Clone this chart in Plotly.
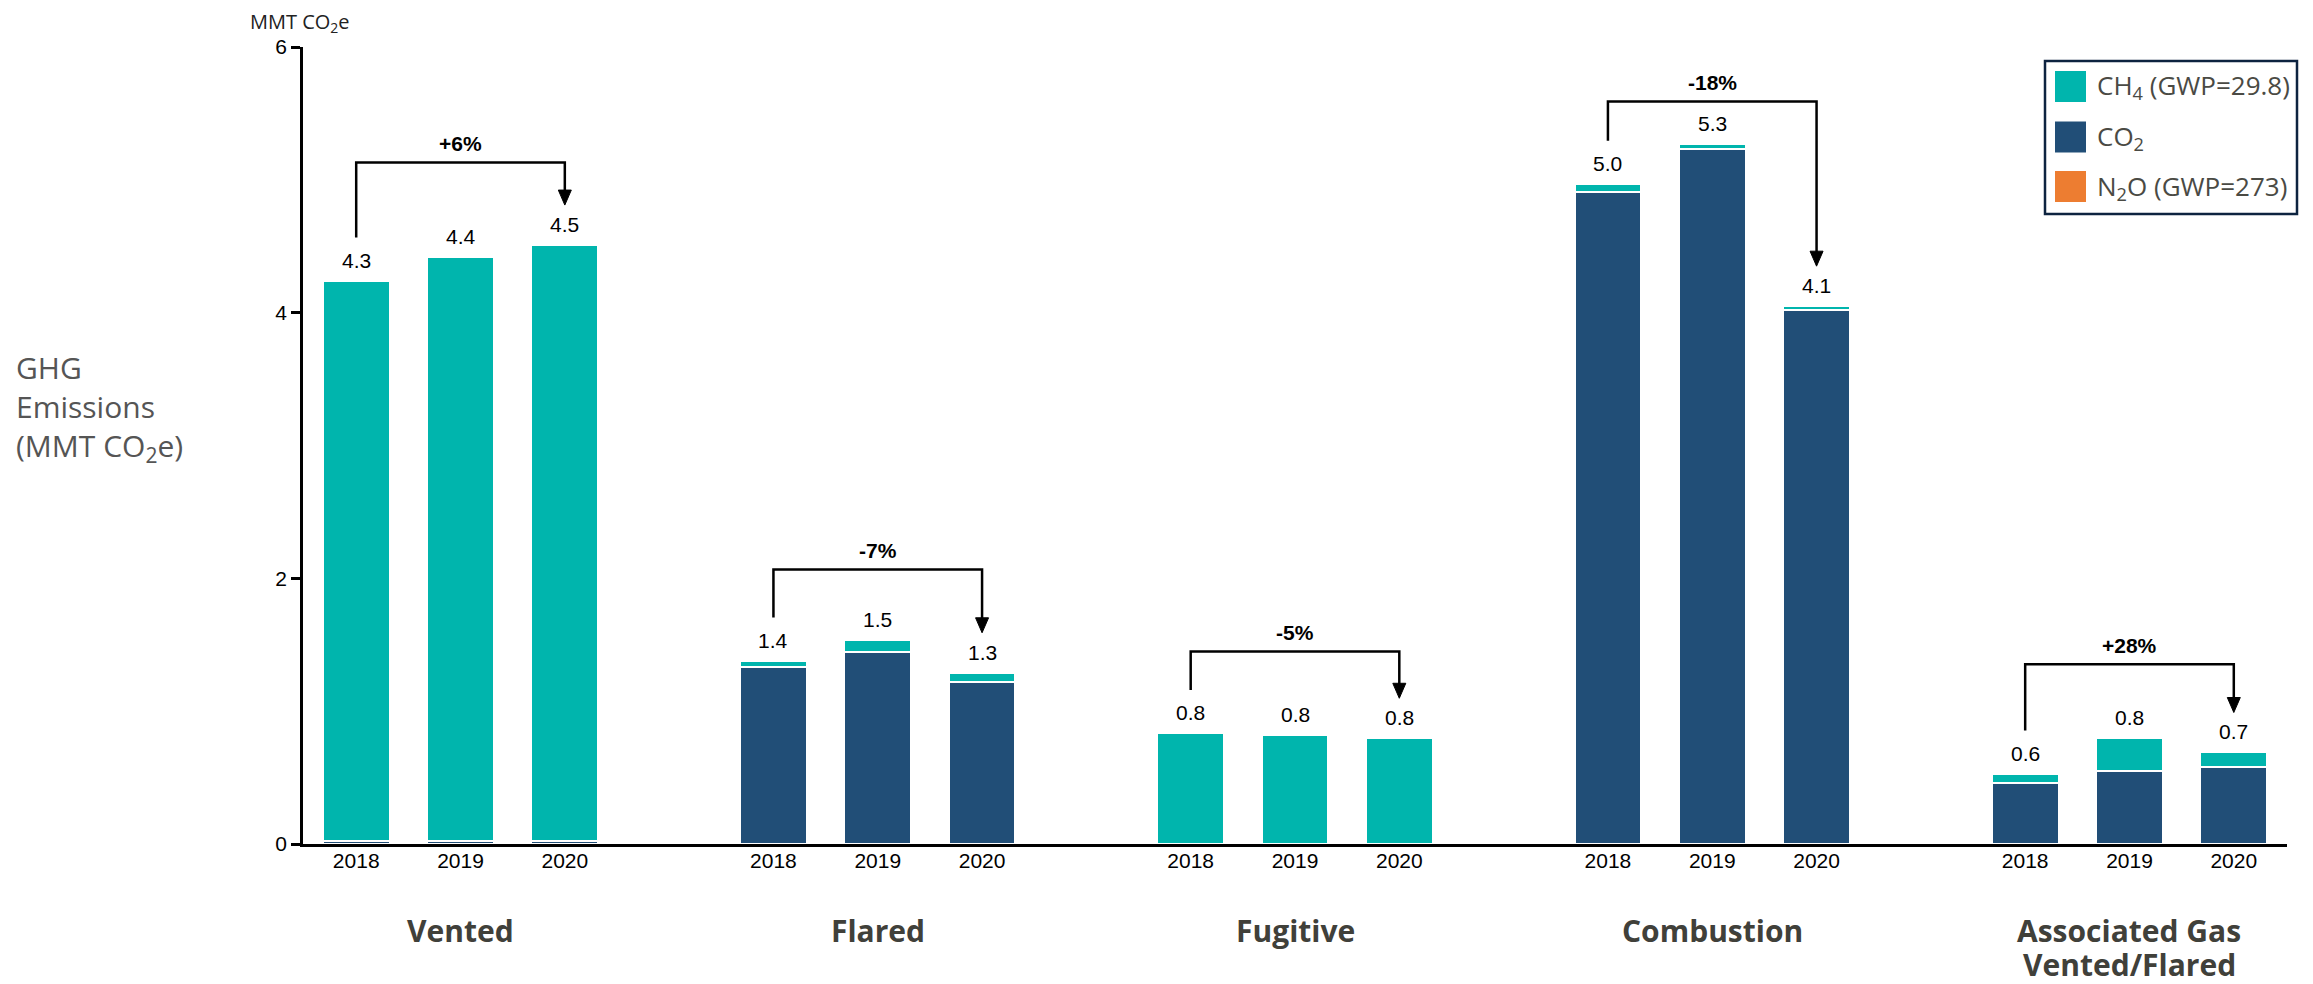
import plotly.graph_objects as go

# ---------------- data ----------------
groups = ["Vented", "Flared", "Fugitive", "Combustion", "Associated Gas|Vented/Flared"]
years = ["2018", "2019", "2020"]

co2 = [
    [0.02, 0.02, 0.02],      # Vented
    [1.33, 1.445, 1.22],     # Flared
    [0.0, 0.0, 0.0],         # Fugitive
    [4.91, 5.23, 4.02],      # Combustion
    [0.46, 0.55, 0.58],      # Associated Gas Vented/Flared
]
ch4 = [
    [4.22, 4.40, 4.49],
    [0.05, 0.09, 0.07],
    [0.835, 0.823, 0.797],
    [0.06, 0.04, 0.03],
    [0.07, 0.25, 0.11],
]
n2o = [
    [0.0, 0.0, 0.0],
    [0.0, 0.0, 0.0],
    [0.0, 0.0, 0.0],
    [0.0, 0.0, 0.0],
    [0.0, 0.0, 0.0],
]
total_labels = [
    ["4.3", "4.4", "4.5"],
    ["1.4", "1.5", "1.3"],
    ["0.8", "0.8", "0.8"],
    ["5.0", "5.3", "4.1"],
    ["0.6", "0.8", "0.7"],
]
change_labels = ["+6%", "-7%", "-5%", "-18%", "+28%"]
y_ticks = [0, 2, 4, 6]

# ---------------- layout constants ----------------
# page body has an 8px margin; the figure is sized to sit inside it
OFF = 8
W, H = 2313 - 2 * OFF, 984 - 2 * OFF
ML, MR, MT, MB = 303 - OFF, 18, 47 - OFF, 132
GROUP_STEP = 4
BAR_W = 0.64
bracket_top = [5.13, 2.066, 1.45, 5.59, 1.353]

TEAL = "#00B5AD"
NAVY = "#214E77"
ORANGE = "#ED7D31"
ARIAL = "Liberation Sans, Arial, sans-serif"
SEGOE = "Open Sans, Noto Sans, sans-serif"

PW = W - ML - MR
PH = H - MT - MB
X_RANGE = [-0.51, (len(groups) - 1) * GROUP_STEP + 2.51]
Y_RANGE = [0, 6]
UX = PW / (X_RANGE[1] - X_RANGE[0])   # px per x unit
UY = PH / (Y_RANGE[1] - Y_RANGE[0])   # px per y unit


def px_x(px):
    """page px -> paper x"""
    return (px - OFF - ML) / PW


def px_y(py):
    """page px -> paper y"""
    return (H - MB - (py - OFF)) / PH


xs, ys_co2, ys_ch4, ys_n2o, tick_text = [], [], [], [], []
for g in range(len(groups)):
    for j in range(len(years)):
        xs.append(g * GROUP_STEP + j)
        ys_co2.append(co2[g][j])
        ys_ch4.append(ch4[g][j])
        ys_n2o.append(n2o[g][j])
        tick_text.append(years[j])

fig = go.Figure()
fig.add_trace(go.Bar(x=xs, y=ys_co2, name="CO<sub>2</sub>", width=BAR_W,
                     marker=dict(color=NAVY, line=dict(color="white", width=2.2))))
fig.add_trace(go.Bar(x=xs, y=ys_ch4, name="CH<sub>4</sub> (GWP=29.8)", width=BAR_W,
                     marker=dict(color=TEAL, line=dict(color="white", width=2.2))))
fig.add_trace(go.Bar(x=xs, y=ys_n2o, name="N<sub>2</sub>O (GWP=273)", width=BAR_W,
                     marker=dict(color=ORANGE, line=dict(width=0))))

annotations = []
shapes = []

# value labels
for g in range(len(groups)):
    for j in range(len(years)):
        tot = co2[g][j] + ch4[g][j] + n2o[g][j]
        annotations.append(dict(x=g * GROUP_STEP + j, y=tot, xref="x", yref="y",
                                text=total_labels[g][j], showarrow=False,
                                yanchor="middle", yshift=20.5,
                                font=dict(family=ARIAL, size=21, color="black")))

# brackets + percent change
HEAD_W = 13 / UX / 2
HEAD_H = 15 / UY
for g in range(len(groups)):
    x0 = g * GROUP_STEP
    x2 = g * GROUP_STEP + 2
    t0 = co2[g][0] + ch4[g][0] + n2o[g][0]
    t2 = co2[g][2] + ch4[g][2] + n2o[g][2]
    top = bracket_top[g]
    tip = t2 + 0.30
    shapes.append(dict(type="path", xref="x", yref="y",
                       path=f"M {x0},{t0 + 0.325} L {x0},{top} L {x2},{top} L {x2},{tip + HEAD_H * 0.8}",
                       line=dict(color="black", width=2.5)))
    shapes.append(dict(type="path", xref="x", yref="y",
                       path=f"M {x2 - HEAD_W},{tip + HEAD_H} L {x2 + HEAD_W},{tip + HEAD_H} L {x2},{tip} Z",
                       line=dict(color="black", width=1), fillcolor="black"))
    annotations.append(dict(x=x0 + 1, y=top, xref="x", yref="y", text=f"<b>{change_labels[g]}</b>",
                            showarrow=False, yanchor="middle", yshift=19,
                            font=dict(family=ARIAL, size=21, color="black")))
    # group labels (one annotation per line)
    for k, line in enumerate(groups[g].split("|")):
        annotations.append(dict(x=x0 + 1, y=0, xref="x", yref="y", text=f"<b>{line}</b>",
                                showarrow=False, yanchor="middle", yshift=-(86 + 34 * k),
                                font=dict(family=SEGOE, size=30, color="#40403a")))

# y title and unit label
annotations.append(dict(x=px_x(14), y=px_y(408), xref="paper", yref="paper",
                        text="GHG<br>Emissions<br>(MMT CO<sub>2</sub>e)", align="left",
                        xanchor="left", yanchor="middle",
                        showarrow=False, font=dict(family=SEGOE, size=30, color="#555555")))
annotations.append(dict(x=px_x(300), y=px_y(22), xref="paper", yref="paper",
                        text="MMT CO<sub>2</sub>e", xanchor="center", yanchor="middle",
                        showarrow=False, font=dict(family=SEGOE, size=20, color="#222222")))

# custom legend
shapes.append(dict(type="rect", xref="paper", yref="paper",
                   x0=px_x(2045), x1=px_x(2297), y0=px_y(61), y1=px_y(214),
                   line=dict(color="#0d2340", width=2.5), fillcolor="white"))
legend_items = [(TEAL, "CH<sub>4</sub> (GWP=29.8)", 86.5),
                (NAVY, "CO<sub>2</sub>", 137),
                (ORANGE, "N<sub>2</sub>O (GWP=273)", 186.5)]
for col, txt, cy in legend_items:
    shapes.append(dict(type="rect", xref="paper", yref="paper",
                       x0=px_x(2055), x1=px_x(2086), y0=px_y(cy - 15.5), y1=px_y(cy + 15.5),
                       line=dict(width=0), fillcolor=col))
    annotations.append(dict(x=px_x(2095), y=px_y(cy), xref="paper", yref="paper",
                            text=txt, xanchor="left", yanchor="middle", showarrow=False,
                            font=dict(family=SEGOE, size=26, color="#4a4a44")))

fig.update_layout(
    barmode="stack",
    width=W, height=H, autosize=False,
    margin=dict(l=ML, r=MR, t=MT, b=MB, pad=0),
    plot_bgcolor="white", paper_bgcolor="white",
    showlegend=False,
    bargap=0,
    annotations=annotations,
    shapes=shapes,
    xaxis=dict(range=X_RANGE,
               tickvals=xs, ticktext=tick_text, ticks="", showgrid=False, zeroline=False,
               showline=True, linecolor="black", linewidth=2.5,
               tickfont=dict(family=ARIAL, size=21, color="black"), ticklabelstandoff=-4),
    yaxis=dict(range=Y_RANGE, tickvals=y_ticks, ticks="outside", ticklen=9, tickwidth=2.5,
               tickcolor="black", showgrid=False, zeroline=False,
               showline=True, linecolor="black", linewidth=2.5,
               tickfont=dict(family=ARIAL, size=21, color="black")),
)

fig.write_html("out.html")
